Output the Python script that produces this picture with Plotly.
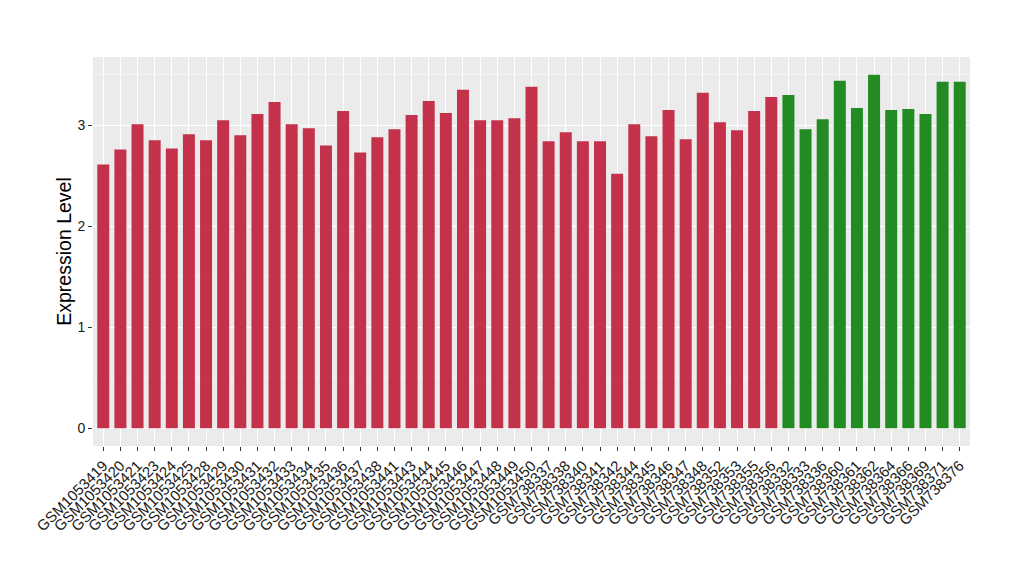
import plotly.graph_objects as go

samples_a = ["GSM1053419", "GSM1053420", "GSM1053421", "GSM1053423", "GSM1053424", "GSM1053425",
             "GSM1053428", "GSM1053429", "GSM1053430", "GSM1053431", "GSM1053432", "GSM1053433",
             "GSM1053434", "GSM1053435", "GSM1053436", "GSM1053437", "GSM1053438", "GSM1053441",
             "GSM1053443", "GSM1053444", "GSM1053445", "GSM1053446", "GSM1053447", "GSM1053448",
             "GSM1053449", "GSM1053450", "GSM738337", "GSM738338", "GSM738340", "GSM738341",
             "GSM738342", "GSM738344", "GSM738345", "GSM738346", "GSM738347", "GSM738348",
             "GSM738352", "GSM738353", "GSM738355", "GSM738356"]
values_a = [2.61, 2.76, 3.01, 2.85, 2.77, 2.91, 2.85, 3.05, 2.90, 3.11, 3.23, 3.01,
            2.97, 2.80, 3.14, 2.73, 2.88, 2.96, 3.10, 3.24, 3.12, 3.35, 3.05, 3.05,
            3.07, 3.38, 2.84, 2.93, 2.84, 2.84, 2.52, 3.01, 2.89, 3.15, 2.86, 3.32,
            3.03, 2.95, 3.14, 3.28]

samples_b = ["GSM738332", "GSM738333", "GSM738336", "GSM738360", "GSM738361", "GSM738362",
             "GSM738364", "GSM738366", "GSM738369", "GSM738371", "GSM738376"]
values_b = [3.30, 2.96, 3.06, 3.44, 3.17, 3.50, 3.15, 3.16, 3.11, 3.43, 3.43]

color_a = "#C3314A"
color_b = "#228B22"

all_samples = samples_a + samples_b

fig = go.Figure()
fig.add_trace(go.Bar(x=samples_a, y=values_a, marker_color=color_a, marker_line_width=0,
                     width=0.7, showlegend=False))
fig.add_trace(go.Bar(x=samples_b, y=values_b, marker_color=color_b, marker_line_width=0,
                     width=0.7, showlegend=False))

ymax = max(values_a + values_b)
fig.update_layout(
    width=1020, height=580,
    margin=dict(l=85, r=58, t=49, b=142, autoexpand=False),
    paper_bgcolor="white",
    plot_bgcolor="#EBEBEB",
    font=dict(family="Liberation Sans, Arial, sans-serif", color="#333333"),
    bargap=0.3,
    xaxis=dict(
        type="category",
        categoryorder="array", categoryarray=all_samples,
        range=[-0.6, len(all_samples) - 0.4],
        tickmode="array", tickvals=all_samples, ticktext=all_samples,
        tickangle=-45,
        tickfont=dict(size=15, color="#1a1a1a"),
        showgrid=True, gridcolor="white", gridwidth=1.1,
        ticks="outside", ticklen=4, tickcolor="#333333", tickwidth=1,
        zeroline=False, showline=False,
    ),
    yaxis=dict(
        range=[-0.05 * ymax, 1.05 * ymax],
        tickvals=[0, 1, 2, 3],
        tickfont=dict(size=14, color="#1a1a1a"),
        title=dict(text="Expression Level", font=dict(size=19.5, color="black"), standoff=0),
        showgrid=True, gridcolor="white", gridwidth=1.1,
        minor=dict(tickvals=[0.5, 1.5, 2.5, 3.5], showgrid=True, gridcolor="#F5F5F5", gridwidth=0.6),
        ticks="outside", ticklen=4, tickcolor="#333333", tickwidth=1,
        zeroline=False, showline=False,
    ),
)

fig.write_html("out.html")
